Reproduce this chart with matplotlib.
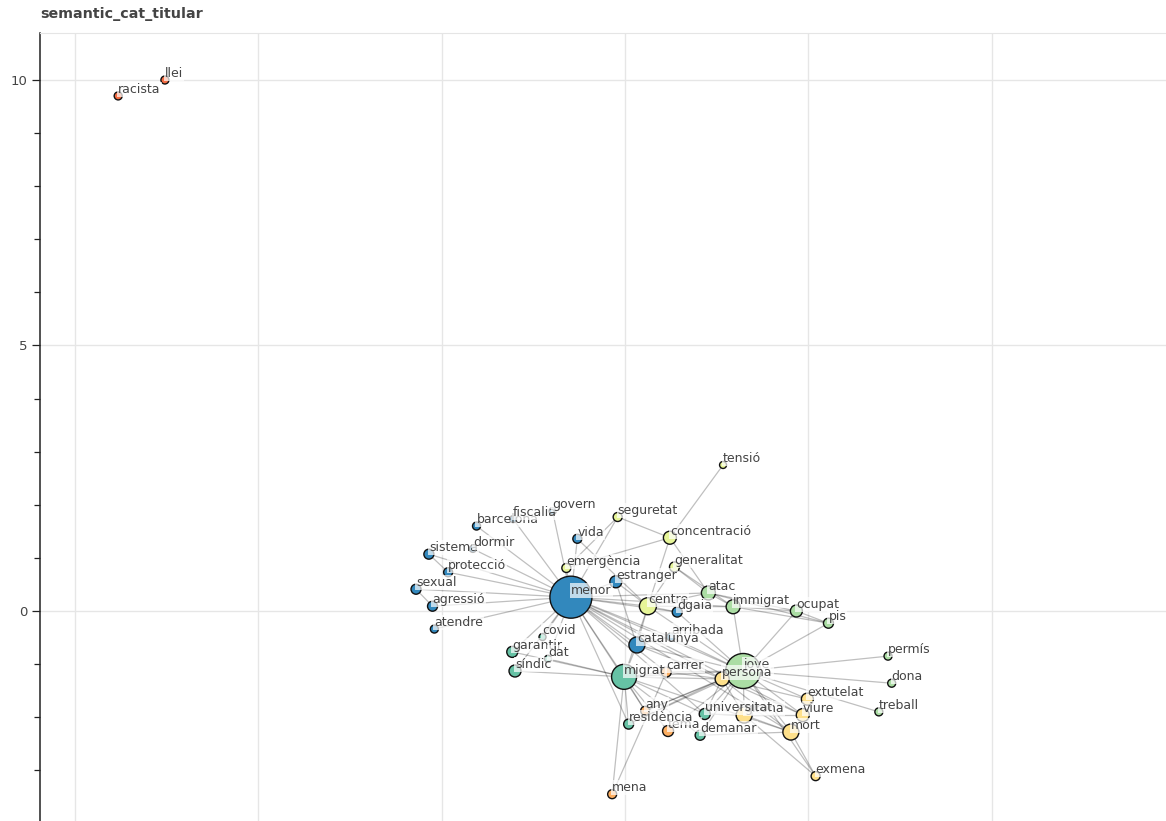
import matplotlib
matplotlib.use("Agg")
import matplotlib.pyplot as plt
from matplotlib.collections import LineCollection

plt.rcParams['font.family'] = ['DejaVu Sans']

# node names, in the order the labels are drawn
names = ["llei", "racista", "tensió", "seguretat", "concentració", "generalitat",
         "emergència", "vida", "sistema", "dormir", "protecció", "sexual",
         "agressió", "atendre", "barcelona", "fiscalia", "govern", "menor",
         "estranger", "centre", "dgaia", "atac", "immigrat", "ocupat", "pis",
         "arribada", "catalunya", "covid", "garantir", "síndic", "dat", "migrat",
         "carrer", "jove", "persona", "permís", "dona", "treball", "extutelat",
         "viure", "mort", "girona", "universitat", "any", "tema", "residència",
         "demanar", "exmena", "mena"]

# layout coordinates
pos_x = [-5.02, -5.53, 1.07, -0.08, 0.49, 0.54,
         -0.64, -0.52, -2.14, -1.66, -1.93, -2.28,
         -2.10, -2.08, -1.62, -1.22, -0.79, -0.59,
         -0.10, 0.25, 0.57, 0.91, 1.18, 1.87, 2.22,
         0.50, 0.13, -0.90, -1.23, -1.20, -0.84, -0.01,
         0.45, 1.29, 1.06, 2.87, 2.91, 2.77, 1.99,
         1.94, 1.81, 1.30, 0.87, 0.22, 0.47, 0.04,
         0.82, 2.08, -0.14]
pos_y = [10.00, 9.70, 2.75, 1.77, 1.38, 0.83,
         0.81, 1.36, 1.07, 1.17, 0.73, 0.41,
         0.09, -0.34, 1.60, 1.73, 1.88, 0.26,
         0.55, 0.09, -0.02, 0.34, 0.08, 0.00, -0.23,
         -0.49, -0.64, -0.49, -0.77, -1.13, -0.90, -1.24,
         -1.15, -1.13, -1.28, -0.85, -1.36, -1.90, -1.66,
         -1.96, -2.28, -1.96, -1.94, -1.88, -2.26, -2.13,
         -2.34, -3.11, -3.45]

# degree (node size = degree + 5)
degree = [3, 3, 2, 4, 8, 5,
          4, 4, 5, 2, 4, 5,
          5, 3, 3, 2, 2, 37,
          7, 12, 5, 9, 9, 7, 5,
          3, 11, 2, 6, 7, 2, 20,
          5, 30, 9, 3, 3, 3, 7,
          8, 11, 11, 6, 4, 6, 5,
          5, 4, 4]

# modularity class
group = [6, 6, 3, 3, 3, 3,
         3, 0, 0, 0, 0, 0,
         0, 0, 0, 0, 0, 0,
         0, 3, 0, 2, 2, 2, 2,
         0, 0, 1, 1, 1, 1, 1,
         5, 2, 4, 2, 2, 2, 4,
         4, 4, 4, 1, 5, 5, 1,
         1, 4, 5]

edges = [
    ("menor", "sistema"), ("menor", "protecció"), ("menor", "sexual"),
    ("menor", "agressió"), ("menor", "atendre"), ("menor", "barcelona"),
    ("menor", "dormir"), ("menor", "fiscalia"), ("menor", "govern"),
    ("menor", "vida"), ("menor", "emergència"), ("menor", "estranger"),
    ("menor", "centre"), ("menor", "dgaia"), ("menor", "catalunya"),
    ("menor", "arribada"), ("menor", "migrat"), ("menor", "jove"),
    ("menor", "persona"), ("menor", "garantir"), ("menor", "síndic"),
    ("menor", "covid"), ("menor", "dat"), ("menor", "atac"),
    ("menor", "immigrat"), ("menor", "carrer"), ("menor", "universitat"),
    ("menor", "residència"), ("menor", "any"), ("menor", "seguretat"),
    ("menor", "mort"), ("menor", "viure"),
    ("sistema", "protecció"), ("sexual", "agressió"),
    ("seguretat", "concentració"), ("seguretat", "emergència"),
    ("tensió", "concentració"), ("concentració", "centre"),
    ("concentració", "atac"), ("concentració", "emergència"),
    ("generalitat", "centre"), ("generalitat", "atac"), ("generalitat", "immigrat"),
    ("vida", "centre"), ("estranger", "catalunya"), ("estranger", "centre"),
    ("centre", "catalunya"), ("centre", "migrat"), ("centre", "jove"),
    ("centre", "atac"), ("centre", "immigrat"), ("centre", "dgaia"),
    ("atac", "immigrat"), ("atac", "ocupat"), ("atac", "pis"),
    ("immigrat", "ocupat"), ("immigrat", "jove"), ("immigrat", "pis"),
    ("ocupat", "pis"), ("ocupat", "jove"), ("pis", "jove"),
    ("catalunya", "migrat"), ("catalunya", "jove"), ("catalunya", "persona"),
    ("catalunya", "arribada"), ("dgaia", "jove"), ("arribada", "jove"),
    ("migrat", "carrer"), ("migrat", "any"), ("migrat", "residència"),
    ("migrat", "tema"), ("migrat", "mena"), ("migrat", "persona"),
    ("migrat", "jove"), ("migrat", "universitat"), ("migrat", "demanar"),
    ("migrat", "síndic"), ("migrat", "garantir"), ("migrat", "dat"),
    ("migrat", "mort"),
    ("jove", "persona"), ("jove", "permís"), ("jove", "dona"),
    ("jove", "treball"), ("jove", "extutelat"), ("jove", "viure"),
    ("jove", "mort"), ("jove", "girona"), ("jove", "universitat"),
    ("jove", "demanar"), ("jove", "tema"), ("jove", "carrer"),
    ("jove", "residència"), ("jove", "any"), ("jove", "exmena"),
    ("persona", "mort"), ("persona", "viure"), ("persona", "girona"),
    ("persona", "residència"), ("persona", "any"), ("persona", "carrer"),
    ("persona", "extutelat"), ("persona", "universitat"),
    ("girona", "exmena"), ("mort", "exmena"), ("mort", "girona"),
    ("viure", "girona"), ("universitat", "girona"), ("demanar", "mort"),
    ("mena", "carrer"),
]

palette = ['#3288bd', '#66c2a5', '#abdda4', '#e6f598',
           '#fee08b', '#fdae61', '#f46d43', '#d53e4f']

fig = plt.figure(figsize=(11.66, 8.21), dpi=100)
ax = fig.add_axes([40 / 1166, 0, 1126 / 1166, 788 / 821])

idx = {n: i for i, n in enumerate(names)}
segs = [[(pos_x[idx[a]], pos_y[idx[a]]), (pos_x[idx[b]], pos_y[idx[b]])] for a, b in edges]
ax.add_collection(LineCollection(segs, colors='black', alpha=0.25, linewidths=0.9, zorder=2))

sizes = [((d + 5) * 0.72) ** 2 for d in degree]
colors = [palette[g] for g in group]
ax.scatter(pos_x, pos_y, s=sizes, c=colors, edgecolors='#111111', linewidths=1.0, zorder=3)

for n, x, y in zip(names, pos_x, pos_y):
    ax.text(x, y, n, ha='left', va='bottom', fontsize=9, color='#444444', zorder=4,
            bbox=dict(facecolor='white', alpha=0.7, edgecolor='none', pad=0.8))

ax.set_xlim(-6.383, 5.903)
ax.set_ylim(-3.955, 10.885)

ax.set_xticks([-6, -4, -2, 0, 2, 4])
ax.set_yticks([0, 5, 10])
ax.set_yticks([-3, -2, -1, 1, 2, 3, 4, 6, 7, 8, 9], minor=True)
ax.tick_params(axis='x', length=0, labelbottom=False)
ax.tick_params(axis='y', which='major', direction='out', length=6, width=0.9,
               color='#222222', labelsize=9.5, labelcolor='#444444', pad=3)
ax.tick_params(axis='y', which='minor', direction='out', length=4, width=0.9, color='#222222')
ax.grid(True, color='#e6e6e6', linewidth=1)
ax.set_axisbelow(True)

ax.spines['right'].set_visible(False)
ax.spines['bottom'].set_visible(False)
ax.spines['top'].set_color('#e5e5e5')
ax.spines['left'].set_color('#222222')
ax.spines['left'].set_linewidth(1.1)

fig.text(40 / 1166, (821 - 14) / 821, "semantic_cat_titular", fontsize=10.3,
         fontweight='bold', color='#444444', ha='left', va='center')

fig.savefig("out.png", dpi=100)
